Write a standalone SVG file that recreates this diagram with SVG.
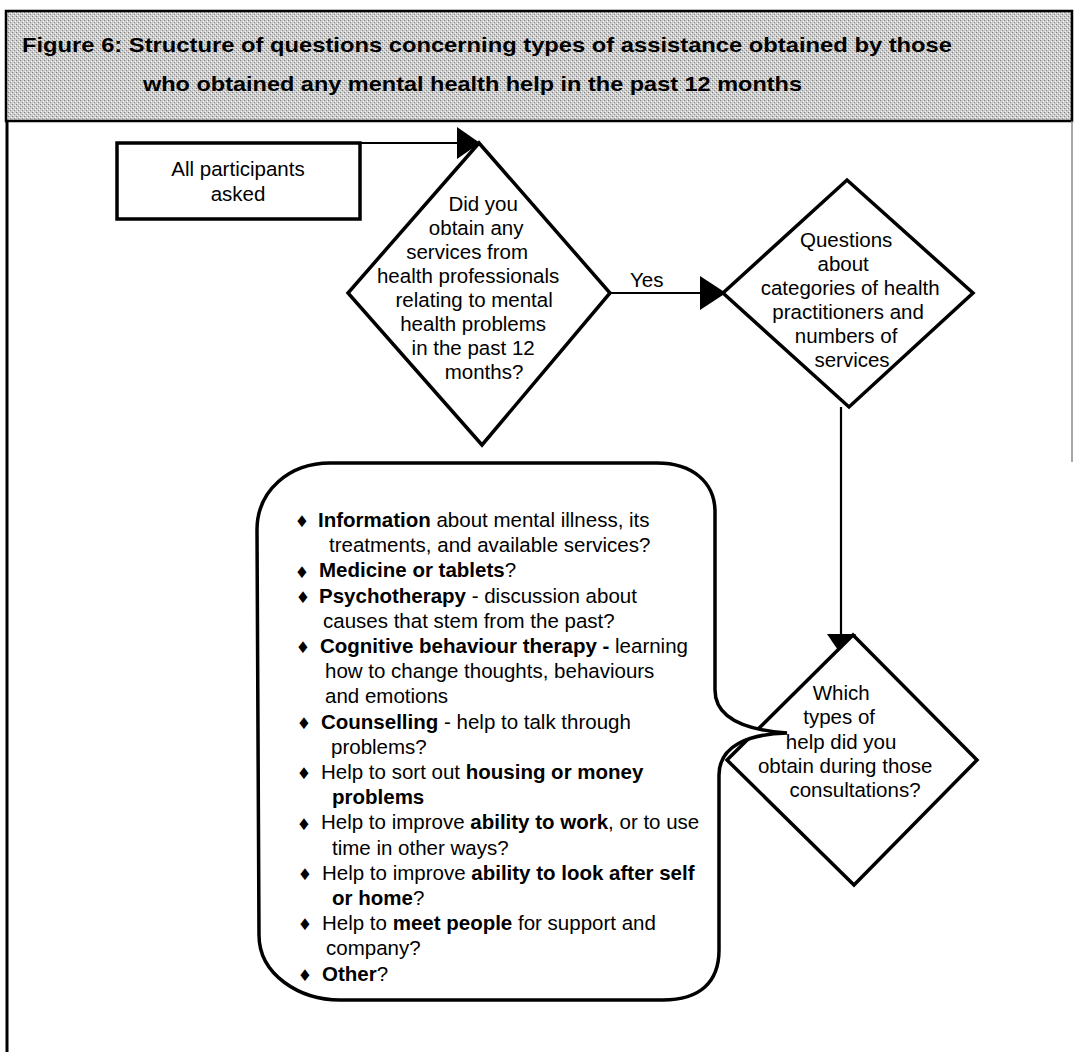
<svg xmlns="http://www.w3.org/2000/svg" width="1074" height="1052" viewBox="0 0 1074 1052">
  <defs>
    <style>
      text { font-family: "Liberation Sans", Arial, Helvetica, sans-serif; fill: #000; }
      .title { font-size: 21px; font-weight: bold; }
      .t { font-size: 20.5px; }
      .c { text-anchor: middle; }
      .b { font-weight: bold; }
      .bul { font-family: "DejaVu Sans", sans-serif; font-size: 16px; text-anchor: middle; }
      .shape { fill: #fff; stroke: #000; stroke-width: 3.5; stroke-linejoin: miter; }
      .edge { fill: none; stroke: #000; stroke-width: 2.2; }
      .head { fill: #000; stroke: none; }
    </style>
    <!-- halftone screen for the header band -->
    <pattern id="screen" width="4" height="4" patternUnits="userSpaceOnUse">
      <rect width="4" height="4" fill="#cdcdcd"/>
      <rect x="0" y="0" width="1" height="1" fill="#7c7c7c"/>
      <rect x="2" y="2" width="1" height="1" fill="#8e8e8e"/>
      <rect x="1" y="3" width="1" height="1" fill="#f2f2f2"/>
      <rect x="3" y="1" width="1" height="1" fill="#ffffff"/>
    </pattern>
  </defs>

  <rect width="1074" height="1052" fill="#fff"/>

  <!-- header band and page frame -->
  <g id="frame">
    <rect x="6" y="11" width="1066" height="110" fill="url(#screen)" stroke="#000" stroke-width="2.5"/>
    <line x1="7" y1="121" x2="7" y2="1052" stroke="#000" stroke-width="3"/>
    <line x1="1072" y1="121" x2="1072" y2="462" stroke="#8a8a8a" stroke-width="1.5"/>
    <text class="title" x="22" y="52" textLength="930" lengthAdjust="spacingAndGlyphs">Figure 6:  Structure of questions concerning types of assistance obtained by those</text>
    <text class="title" x="143" y="91" textLength="659" lengthAdjust="spacingAndGlyphs">who obtained any mental health help in the past 12 months</text>
  </g>

  <!-- connectors -->
  <g id="connectors">
    <polyline class="edge" points="360,143 462,143"/>
    <polygon class="head" points="457,127 457,159 480,143"/>
    <line class="edge" x1="610" y1="293" x2="702" y2="293"/>
    <polygon class="head" points="700,276 700,310 726,293"/>
    <line class="edge" x1="841" y1="407" x2="841" y2="640"/>
    <polygon class="head" points="827,634 856,634 842,656"/>
    <text class="t" x="630" y="287">Yes</text>
  </g>

  <g id="start">
    <rect class="shape" x="117" y="143" width="243" height="76" stroke-width="3"/>
    <text class="t c" x="238" y="176">All participants</text>
    <text class="t c" x="238" y="201">asked</text>
  </g>

  <g id="q-services">
    <polygon class="shape" points="479,143 610,293 482,445 348,293"/>
    <text class="t c">
      <tspan x="486" y="211">Did you</tspan>
      <tspan x="479" y="235">obtain any</tspan>
      <tspan x="470" y="259">services from</tspan>
      <tspan x="471" y="283">health professionals</tspan>
      <tspan x="477" y="307">relating to mental</tspan>
      <tspan x="476" y="331">health problems</tspan>
      <tspan x="476" y="355">in the past 12</tspan>
      <tspan x="484" y="379">months?</tspan>
    </text>
  </g>

  <g id="q-categories">
    <polygon class="shape" points="847,180 973,293 849,407 723,293"/>
    <text class="t c">
      <tspan x="849" y="247">Questions</tspan>
      <tspan x="846" y="271">about</tspan>
      <tspan x="853" y="295">categories of health</tspan>
      <tspan x="851" y="319">practitioners and</tspan>
      <tspan x="849" y="343">numbers of</tspan>
      <tspan x="852" y="367">services</tspan>
    </text>
  </g>

  <g id="q-types">
    <polygon class="shape" points="853,635 977,760 854,885 727,760"/>
    <text class="t c">
      <tspan x="844" y="700">Which</tspan>
      <tspan x="842" y="724">types of</tspan>
      <tspan x="844" y="749">help did you</tspan>
      <tspan x="848" y="773">obtain during those</tspan>
      <tspan x="855" y="797">consultations?</tspan>
    </text>
  </g>

  <g id="help-types">
    <path class="shape" stroke-width="3" d="M330,463 L657,463 C692,463 715,482 715,512 L715,690 C715,718 745,730 787,733 C748,734 719,746 719,775 L719,950 C719,982 700,1000 663,1000 L340,1000 C300,1000 259,975 259,935 L257,530 C257,490 290,463 330,463 Z"/>
    <g>
      <text class="bul" x="302" y="527">♦</text>
      <text class="bul" x="302" y="578">♦</text>
      <text class="bul" x="303" y="603">♦</text>
      <text class="bul" x="303" y="653">♦</text>
      <text class="bul" x="304" y="729">♦</text>
      <text class="bul" x="304" y="779">♦</text>
      <text class="bul" x="304" y="830">♦</text>
      <text class="bul" x="305" y="880">♦</text>
      <text class="bul" x="305" y="930">♦</text>
      <text class="bul" x="305" y="981">♦</text>
    </g>
    <text class="t" x="318" y="527"><tspan class="b">Information</tspan> about mental illness, its</text>
    <text class="t" x="329" y="552">treatments, and available services?</text>
    <text class="t" x="319" y="577"><tspan class="b">Medicine or tablets</tspan>?</text>
    <text class="t" x="319" y="603"><tspan class="b">Psychotherapy</tspan> - discussion about</text>
    <text class="t" x="323" y="628">causes that stem from the past?</text>
    <text class="t" x="320" y="653"><tspan class="b">Cognitive behaviour therapy -</tspan> learning</text>
    <text class="t" x="325" y="678">how to change thoughts, behaviours</text>
    <text class="t" x="325" y="703">and emotions</text>
    <text class="t" x="321" y="729"><tspan class="b">Counselling</tspan> - help to talk through</text>
    <text class="t" x="331" y="754">problems?</text>
    <text class="t" x="321" y="779">Help to sort out <tspan class="b">housing or money</tspan></text>
    <text class="t b" x="332" y="804">problems</text>
    <text class="t" x="321" y="829">Help to improve <tspan class="b">ability to work</tspan>, or to use</text>
    <text class="t" x="332" y="855">time in other ways?</text>
    <text class="t" x="322" y="880">Help to improve <tspan class="b">ability to look after self</tspan></text>
    <text class="t" x="332" y="905"><tspan class="b">or home</tspan>?</text>
    <text class="t" x="322" y="930">Help to <tspan class="b">meet people</tspan> for support and</text>
    <text class="t" x="326" y="955">company?</text>
    <text class="t" x="322" y="981"><tspan class="b">Other</tspan>?</text>
  </g>
</svg>
